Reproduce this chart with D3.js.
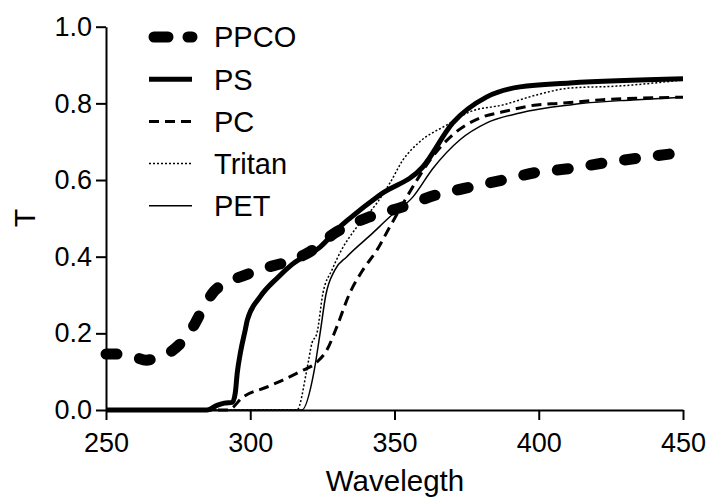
<!DOCTYPE html>
<html>
<head>
<meta charset="utf-8">
<title>Transmittance</title>
<style>
    body { margin: 0; background: #fff; }
    svg { display: block; font-family: Arial, "Liberation Sans", sans-serif; }
    .axis path, .axis line { stroke: #000; stroke-width: 2px; }
    .axis text { font-size: 27px; fill: #000; }
</style>
<script src="https://d3js.org/d3.v7.min.js"></script>
</head>
<body>
<script>
// data: wavelength (nm) and transmittance
const ppcoWl = [250, 255, 260, 264, 267, 273, 276, 280, 284, 287.5, 291, 297.5, 305, 312, 320, 330, 340, 352.9, 364, 375.4, 387.6, 399.3, 410.8, 422.9, 434.3, 450];
const ppcoT  = [0.146, 0.146, 0.138, 0.13, 0.135, 0.155, 0.175, 0.215, 0.27, 0.31, 0.33, 0.35, 0.37, 0.385, 0.41, 0.465, 0.50, 0.53, 0.56, 0.58, 0.60, 0.62, 0.63, 0.645, 0.657, 0.672];

const psWl = [250, 285, 288.5, 291, 293.8, 294.8, 295.5, 296.6, 298.3, 299, 303.4, 309.3, 314.5, 324.2, 331.1, 334.5, 344.9, 359.8, 370.2, 382, 393.5, 410.8, 450];
const psT  = [0, 0, 0.012, 0.018, 0.02, 0.044, 0.097, 0.15, 0.21, 0.235, 0.295, 0.344, 0.38, 0.425, 0.478, 0.50, 0.561, 0.634, 0.749, 0.817, 0.843, 0.853, 0.864];

const pcWl = [250, 292.3, 297.5, 305.8, 311.3, 317.2, 323.1, 326.6, 330, 334.5, 339, 343.9, 348.4, 357.8, 362.3, 370.2, 379.6, 387.6, 399.3, 407.3, 421.2, 450];
const pcT  = [0, 0, 0.034, 0.06, 0.078, 0.1, 0.125, 0.157, 0.217, 0.305, 0.365, 0.417, 0.478, 0.60, 0.652, 0.718, 0.762, 0.778, 0.796, 0.80, 0.809, 0.816];

const tritanWl = [250, 316.2, 319.6, 321.4, 323.1, 325.2, 328.3, 331.1, 337, 343.9, 348.4, 352.9, 358.8, 368.2, 376.1, 387.6, 399.3, 410.8, 427.1, 450];
const tritanT  = [0, 0, 0.104, 0.175, 0.2, 0.305, 0.365, 0.41, 0.478, 0.54, 0.592, 0.652, 0.70, 0.744, 0.778, 0.796, 0.822, 0.84, 0.845, 0.861];

const petWl = [250, 317.9, 322.1, 324.2, 326.2, 329.3, 333.5, 342.5, 348.4, 356.4, 363.3, 372.7, 382, 393.5, 410.8, 415.3, 432.6, 450];
const petT  = [0, 0, 0.1, 0.2, 0.3, 0.365, 0.40, 0.462, 0.504, 0.556, 0.63, 0.705, 0.749, 0.775, 0.796, 0.80, 0.809, 0.816];

const xTicks = [250, 300, 350, 400, 450];
const yTicks = [0, 0.2, 0.4, 0.6, 0.8, 1.0];

const series = [
    { name: 'PPCO',   wl: ppcoWl,   t: ppcoT,   width: 11, dash: '11,23', cap: 'round' },
    { name: 'PS',     wl: psWl,     t: psT,     width: 5,  dash: null,    cap: 'butt' },
    { name: 'PC',     wl: pcWl,     t: pcT,     width: 3,  dash: '10,6',  cap: 'butt' },
    { name: 'Tritan', wl: tritanWl, t: tritanT, width: 1.5, dash: '2,2',  cap: 'butt' },
    { name: 'PET',    wl: petWl,    t: petT,    width: 1.5, dash: null,   cap: 'butt' }
];

const width = 708, height = 497;

const svg = d3.select('body').append('svg')
    .attr('width', width)
    .attr('height', height);

const x = d3.scaleLinear().domain([250, 450]).range([106, 683]);
const y = d3.scaleLinear().domain([0, 1]).range([410, 26.7]);

const line = d3.line()
    .x(d => x(d[0]))
    .y(d => y(d[1]))
    .curve(d3.curveMonotoneX);

// curves, thickest drawn last so it sits on top like the original
const drawOrder = ['PET', 'Tritan', 'PC', 'PS', 'PPCO'];
drawOrder.forEach(n => {
    const s = series.find(d => d.name === n);
    svg.append('path')
        .datum(s.wl.map((w, i) => [w, s.t[i]]))
        .attr('d', line)
        .attr('fill', 'none')
        .attr('stroke', '#000')
        .attr('stroke-width', s.width)
        .attr('stroke-dasharray', s.dash)
        .attr('stroke-linecap', s.cap)
        .attr('stroke-linejoin', 'round');
});

// axes
svg.append('g')
    .attr('class', 'axis')
    .attr('transform', `translate(0,${y(0)})`)
    .call(d3.axisBottom(x).tickValues(xTicks).tickSize(10).tickPadding(13).tickSizeOuter(0))
    .call(g => g.selectAll('text').attr('dy', '0.72em'));

svg.append('g')
    .attr('class', 'axis')
    .attr('transform', `translate(${x(250)},0)`)
    .call(d3.axisLeft(y).tickValues(yTicks).tickFormat(d3.format('.1f')).tickSize(10).tickPadding(4).tickSizeOuter(0));

svg.selectAll('.axis .domain').attr('stroke-width', 2);

// axis titles
svg.append('text')
    .attr('x', 395)
    .attr('y', 491)
    .attr('text-anchor', 'middle')
    .style('font-size', '29.5px')
    .text('Wavelegth');

svg.append('text')
    .attr('transform', 'translate(35,218) rotate(-90)')
    .attr('text-anchor', 'middle')
    .style('font-size', '30px')
    .text('T');

// legend
const legend = svg.append('g');
series.forEach((s, i) => {
    const ly = 37 + i * 42.2;
    legend.append('line')
        .attr('x1', s.cap === 'round' ? 154 : 149)
        .attr('x2', 192)
        .attr('y1', ly).attr('y2', ly)
        .attr('stroke', '#000')
        .attr('stroke-width', s.width)
        .attr('stroke-dasharray', s.cap === 'round' ? '14,20' : s.dash)
        .attr('stroke-linecap', s.cap);
    legend.append('text')
        .attr('x', 214)
        .attr('y', ly)
        .attr('dy', '0.36em')
        .style('font-size', '29px')
        .text(s.name);
});
</script>
</body>
</html>
